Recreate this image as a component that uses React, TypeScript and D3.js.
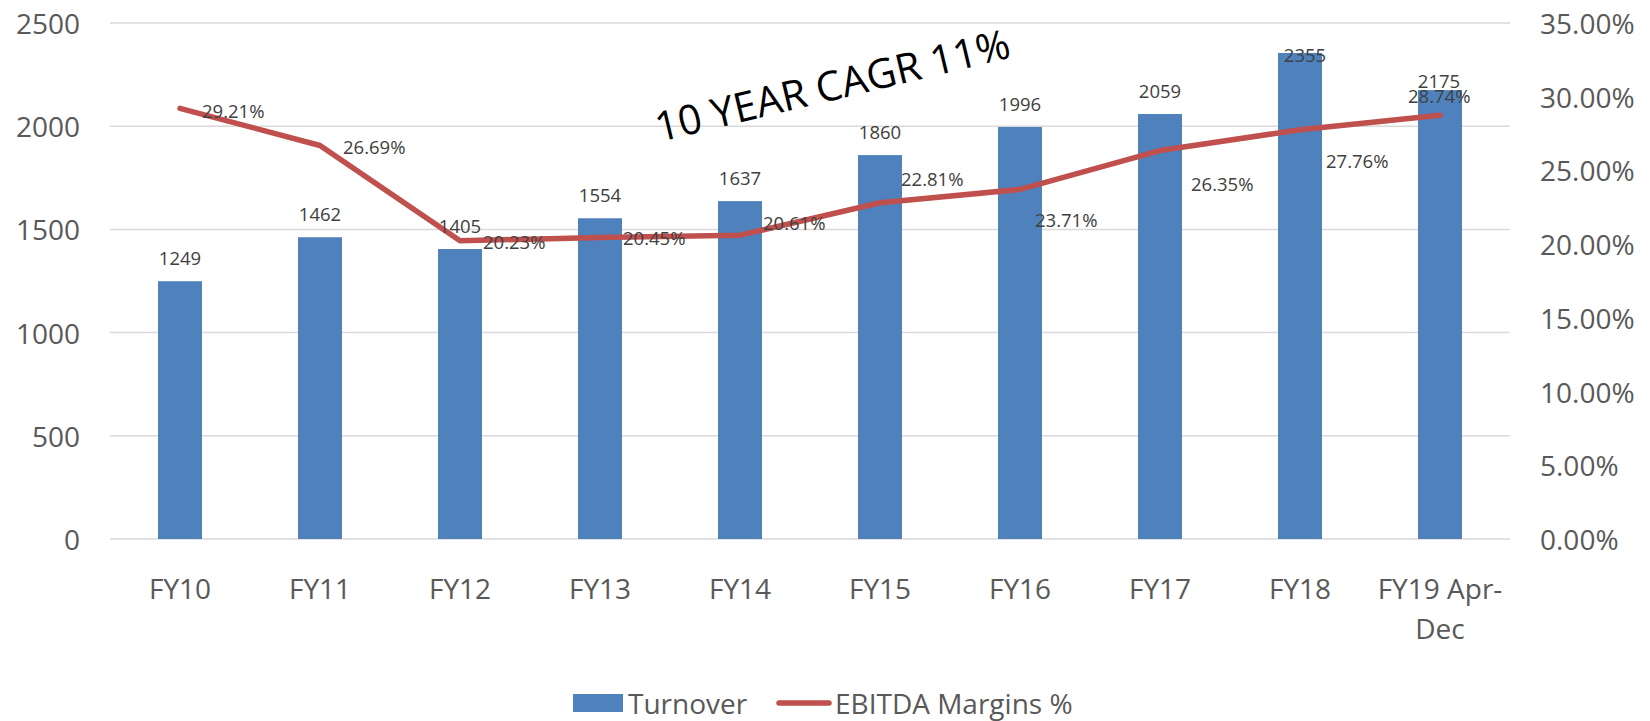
import React, { useEffect, useRef } from 'react';
import * as d3 from 'd3';

// ==== data

const categories = ['FY10', 'FY11', 'FY12', 'FY13', 'FY14', 'FY15', 'FY16', 'FY17', 'FY18', 'FY19 Apr-Dec'];
const turnover = [1249, 1462, 1405, 1554, 1637, 1860, 1996, 2059, 2355, 2175];
const ebitdaMargins = [29.21, 26.69, 20.23, 20.45, 20.61, 22.81, 23.71, 26.35, 27.76, 28.74];
const leftTicks = [0, 500, 1000, 1500, 2000, 2500];
const rightTicks = [0, 5, 10, 15, 20, 25, 30, 35];
const seriesNames = ['Turnover', 'EBITDA Margins %'];
const annotation = '10 YEAR CAGR 11%';

// label nudges, as placed in the original slide
const barLabelShift = [[0, -24], [0, -24], [0, -24], [0, -24], [0, -24], [0, -24], [0, -24], [0, -24], [5, 2], [-1, -10]];
const lineLabelShift = [[22, 2], [23, 1], [23, 1], [23, 0], [23, -13], [21, -24], [15, 30], [31, 33], [26, 31], [-32, -20]];

// ====

const BLUE = '#4F81BD';
const RED = '#C0504D';
const GRID = '#D9D9D9';
const AXIS_TEXT = '#595959';
const LABEL_TEXT = '#404040';
const FONT = '"Open Sans", "Noto Sans", sans-serif';

export default function App() {
    const ref = useRef<SVGSVGElement>(null);

    useEffect(() => {
        const svg = d3.select(ref.current);
        svg.selectAll('*').remove();

        const left = 110, right = 1510, top = 23, bottom = 539;

        const x = d3.scaleBand().domain(categories).range([left, right]).paddingInner(0.686).paddingOuter(0.343);
        const y = d3.scaleLinear().domain([0, 2500]).range([bottom, top]);
        const y2 = d3.scaleLinear().domain([0, 35]).range([bottom, top]);
        const cx = (c) => x(c) + x.bandwidth() / 2;

        // gridlines
        svg.append('g').selectAll('line')
            .data(leftTicks)
            .enter()
            .append('line')
            .attr('x1', left).attr('x2', right)
            .attr('y1', (d) => y(d)).attr('y2', (d) => y(d))
            .attr('stroke', GRID).attr('stroke-width', 1.5);

        // left axis
        svg.append('g').selectAll('text')
            .data(leftTicks)
            .enter()
            .append('text')
            .attr('x', 80).attr('y', (d) => y(d))
            .attr('text-anchor', 'end').attr('dominant-baseline', 'central')
            .style('font-family', FONT).style('font-size', '28px').attr('fill', AXIS_TEXT)
            .text((d) => d);

        // right axis
        svg.append('g').selectAll('text')
            .data(rightTicks)
            .enter()
            .append('text')
            .attr('x', 1540).attr('y', (d) => y2(d))
            .attr('text-anchor', 'start').attr('dominant-baseline', 'central')
            .style('font-family', FONT).style('font-size', '28px').attr('fill', AXIS_TEXT)
            .text((d) => `${d.toFixed(2)}%`);

        // category labels (wrap the long one)
        const cat = svg.append('g').selectAll('text')
            .data(categories)
            .enter()
            .append('text')
            .attr('x', (d) => cx(d)).attr('y', 588)
            .attr('text-anchor', 'middle').attr('dominant-baseline', 'central')
            .style('font-family', FONT).style('font-size', '28px').attr('fill', AXIS_TEXT);

        cat.each(function (d) {
            const parts = d === 'FY19 Apr-Dec' ? ['FY19 Apr-', 'Dec'] : [d];
            d3.select(this).selectAll('tspan')
                .data(parts)
                .enter()
                .append('tspan')
                .attr('x', cx(d))
                .attr('dy', (p, i) => (i === 0 ? 0 : 40))
                .text((p) => p);
        });

        // bars
        svg.append('g').selectAll('rect')
            .data(turnover)
            .enter()
            .append('rect')
            .attr('x', (d, i) => x(categories[i]))
            .attr('y', (d) => y(d))
            .attr('width', x.bandwidth())
            .attr('height', (d) => bottom - y(d))
            .attr('fill', BLUE);

        // line
        const line = d3.line()
            .x((d, i) => cx(categories[i]))
            .y((d) => y2(d));

        svg.append('path')
            .datum(ebitdaMargins)
            .attr('d', line)
            .attr('fill', 'none')
            .attr('stroke', RED)
            .attr('stroke-width', 5.5)
            .attr('stroke-linecap', 'round')
            .attr('stroke-linejoin', 'round');

        // bar labels
        svg.append('g').selectAll('text')
            .data(turnover)
            .enter()
            .append('text')
            .attr('x', (d, i) => cx(categories[i]) + barLabelShift[i][0])
            .attr('y', (d, i) => y(d) + barLabelShift[i][1])
            .attr('text-anchor', 'middle').attr('dominant-baseline', 'central')
            .style('font-family', FONT).style('font-size', '18.5px').attr('fill', LABEL_TEXT)
            .text((d) => d);

        // line labels
        svg.append('g').selectAll('text')
            .data(ebitdaMargins)
            .enter()
            .append('text')
            .attr('x', (d, i) => cx(categories[i]) + lineLabelShift[i][0])
            .attr('y', (d, i) => y2(d) + lineLabelShift[i][1])
            .attr('text-anchor', 'start').attr('dominant-baseline', 'central')
            .style('font-family', FONT).style('font-size', '18.5px').attr('fill', LABEL_TEXT)
            .text((d) => `${d.toFixed(2)}%`);

        // CAGR annotation
        svg.append('text')
            .attr('transform', 'translate(832, 84) rotate(-13.5)')
            .attr('text-anchor', 'middle').attr('dominant-baseline', 'central')
            .style('font-family', FONT).style('font-size', '41px').attr('fill', '#000')
            .text(annotation);

        // legend
        const lg = svg.append('g');
        lg.append('rect').attr('x', 573).attr('y', 694).attr('width', 50).attr('height', 18).attr('fill', BLUE);
        lg.append('text').attr('x', 628).attr('y', 703)
            .attr('dominant-baseline', 'central')
            .style('font-family', FONT).style('font-size', '28px').attr('fill', AXIS_TEXT)
            .text(seriesNames[0]);
        lg.append('line').attr('x1', 779).attr('x2', 829).attr('y1', 703).attr('y2', 703)
            .attr('stroke', RED).attr('stroke-width', 5.5).attr('stroke-linecap', 'round');
        lg.append('text').attr('x', 835).attr('y', 703)
            .attr('dominant-baseline', 'central')
            .style('font-family', FONT).style('font-size', '28px').attr('fill', AXIS_TEXT)
            .text(seriesNames[1]);
    }, []);

    return (
        <svg
            ref={ref}
            width={1650}
            height={721}
            style={{ position: 'absolute', left: 0, top: 0, background: '#fff' }}>
        </svg>
    );
}
